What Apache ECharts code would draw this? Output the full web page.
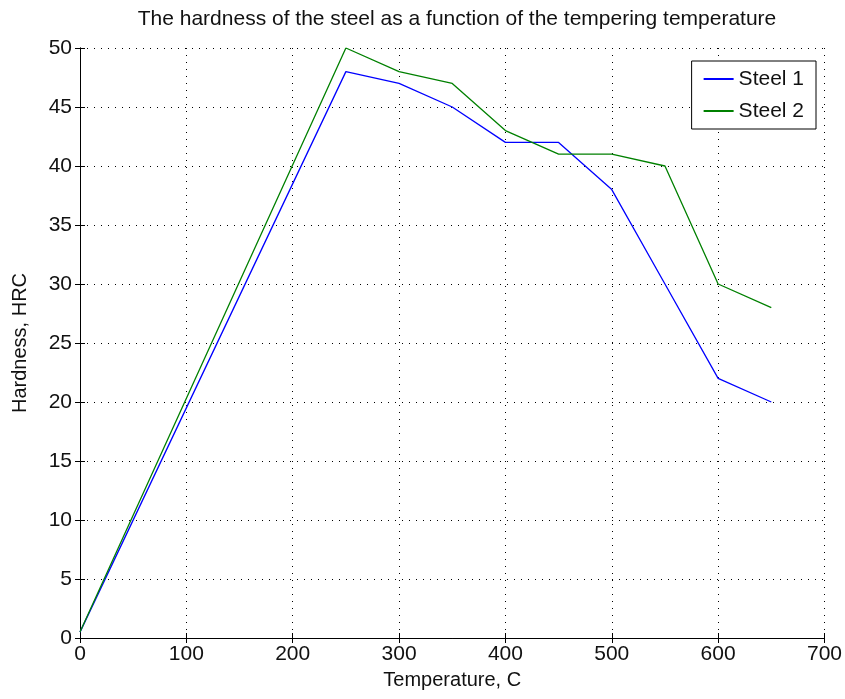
<!DOCTYPE html>
<html>
<head>
<meta charset="utf-8">
<script src="https://cdn.jsdelivr.net/npm/echarts@6/dist/echarts.min.js"></script>
<style>
  html, body { margin: 0; padding: 0; background: #fff; }
  #chart { width: 845px; height: 699px; }
</style>
</head>
<body>
<div id="chart"></div>
<script>
const temperatures = [0, 250, 300, 350, 400, 450, 500, 550, 600, 650];
const steel1 = [0.5, 48, 47, 45, 42, 42, 38, 30, 22, 20];
const steel2 = [0.5, 50, 48, 47, 43, 41, 41, 40, 30, 28];
const seriesNames = ["Steel 1", "Steel 2"];

const font = '"Liberation Sans", Arial, sans-serif';
const chart = echarts.init(document.getElementById("chart"));

const pairs = values => temperatures.map((t, i) => [t, values[i]]);

const gridLine = { show: true, lineStyle: { color: "#000", type: [1, 6], width: 1 } };
const boxAxis = { lineStyle: { color: "#000", width: 1 } };
const innerTick = { show: true, inside: true, length: 5, lineStyle: { color: "#000" } };

chart.setOption({
  animation: false,
  backgroundColor: "#fff",
  title: {
    text: "The hardness of the steel as a function of the tempering temperature",
    left: 452,
    top: 4,
    textAlign: "center",
    textStyle: { fontFamily: font, fontSize: 21, fontWeight: "normal", color: "#111" }
  },
  grid: { left: 80, right: 20, top: 48, bottom: 61, containLabel: false },
  legend: {
    orient: "vertical",
    right: 29,
    top: 61,
    data: seriesNames,
    icon: "rect",
    backgroundColor: "#fff",
    borderColor: "#000",
    borderWidth: 1,
    padding: [6, 12, 6, 12],
    itemWidth: 30,
    itemHeight: 2,
    itemGap: 8,
    textStyle: { fontFamily: font, fontSize: 21, color: "#111", lineHeight: 24 }
  },
  xAxis: [
    {
      type: "value", min: 0, max: 700, interval: 100, position: "bottom",
      name: "Temperature, C", nameLocation: "middle", nameGap: 32,
      nameTextStyle: { fontFamily: font, fontSize: 20, color: "#111" },
      axisLine: { show: true, ...boxAxis }, axisTick: innerTick,
      axisLabel: { fontFamily: font, fontSize: 21, color: "#111", margin: 6 },
      splitLine: gridLine
    },
    {
      type: "value", min: 0, max: 700, interval: 100, position: "top",
      axisLine: { show: true, ...boxAxis }, axisTick: innerTick,
      axisLabel: { show: false }, splitLine: { show: false }
    }
  ],
  yAxis: [
    {
      type: "value", min: 0, max: 50, interval: 5, position: "left",
      name: "Hardness, HRC", nameLocation: "middle", nameGap: 50,
      nameTextStyle: { fontFamily: font, fontSize: 20, color: "#111" },
      axisLine: { show: true, ...boxAxis }, axisTick: innerTick,
      axisLabel: { fontFamily: font, fontSize: 21, color: "#111", margin: 8 },
      splitLine: gridLine
    },
    {
      type: "value", min: 0, max: 50, interval: 5, position: "right",
      axisLine: { show: true, ...boxAxis }, axisTick: innerTick,
      axisLabel: { show: false }, splitLine: { show: false }
    }
  ],
  series: [
    {
      name: seriesNames[0], type: "line", data: pairs(steel1),
      symbol: "none", lineStyle: { color: "#0000ff", width: 1.3 }, itemStyle: { color: "#0000ff" }
    },
    {
      name: seriesNames[1], type: "line", data: pairs(steel2),
      symbol: "none", lineStyle: { color: "#008000", width: 1.3 }, itemStyle: { color: "#008000" }
    }
  ]
});
</script>
</body>
</html>
